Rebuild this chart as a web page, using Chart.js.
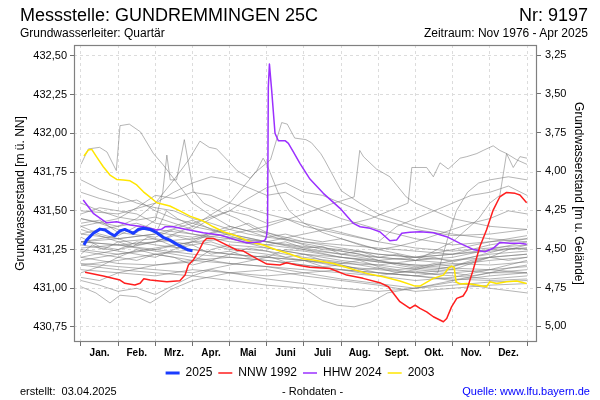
<!DOCTYPE html>
<html>
<head>
<meta charset="utf-8">
<script src="https://cdn.jsdelivr.net/npm/chart.js@4.4.0/dist/chart.umd.min.js"></script>
<style>
    body { margin: 0; background: #fff; font-family: "Liberation Sans", Arial, sans-serif; }
    #wrap { position: relative; width: 600px; height: 400px; background: #fff; overflow: hidden; }
    #wrap canvas { position: absolute; left: 0; top: 0; }
    .txt { position: absolute; white-space: pre; color: #000; line-height: 1; }
</style>
</head>
<body>
<div id="wrap">
    <canvas id="levelChart" width="600" height="400"></canvas>
    <div class="txt" style="left:20px; top:6px; font-size:18px;">Messstelle: GUNDREMMINGEN 25C</div>
    <div class="txt" style="right:12px; top:6px; font-size:18px;">Nr: 9197</div>
    <div class="txt" style="left:20px; top:27px; font-size:12px;">Grundwasserleiter: Quartär</div>
    <div class="txt" style="right:12px; top:27px; font-size:12px;">Zeitraum: Nov 1976 - Apr 2025</div>
    <div class="txt" style="left:20px; top:386px; font-size:11px;">erstellt:  03.04.2025</div>
    <div class="txt" style="left:282px; top:386px; font-size:11px;">- Rohdaten -</div>
    <div class="txt" style="right:10px; top:386px; font-size:11px; color:#0000ff;">Quelle: www.lfu.bayern.de</div>
</div>
<script>
// x values are in months: 0 = 1. Jan., 12 = 31. Dez.
const monthLabels = ["Jan.", "Feb.", "Mrz.", "Apr.", "Mai", "Juni", "Juli", "Aug.", "Sept.", "Okt.", "Nov.", "Dez."];
const monthBounds = [0, 1, 2, 3, 4, 5, 6, 7, 8, 9, 10, 11, 12];
const monthMids = [0.5, 1.5, 2.5, 3.5, 4.5, 5.5, 6.5, 7.5, 8.5, 9.5, 10.5, 11.5];
const levelTicks = [430.75, 431.0, 431.25, 431.5, 431.75, 432.0, 432.25, 432.5];
const depthTicks = [3.25, 3.5, 3.75, 4.0, 4.25, 4.5, 4.75, 5.0];
const groundLevel = 435.755;
const levelMin = 430.653;
const levelMax = 432.571;
const xMin = -0.188;
const xMax = 12.269;

const legendNames = ["2025", "NNW 1992", "HHW 2024", "2003"];

const series2025 = [
    [0.08, 431.279], [0.15, 431.311], [0.33, 431.355], [0.51, 431.382], [0.65, 431.376], [0.78, 431.355],
    [0.9, 431.339], [1.05, 431.371], [1.18, 431.38], [1.32, 431.365], [1.41, 431.355], [1.54, 431.38],
    [1.68, 431.387], [1.86, 431.38], [2.04, 431.359], [2.21, 431.329], [2.39, 431.311], [2.57, 431.285],
    [2.75, 431.262], [2.89, 431.247], [3.0, 431.242],
];

const seriesNNW1992 = [
    [0.11, 431.103], [0.6, 431.079], [1.05, 431.053], [1.18, 431.032], [1.45, 431.021], [1.59, 431.032],
    [1.69, 431.062], [1.86, 431.053], [2.31, 431.042], [2.66, 431.048], [2.8, 431.085], [2.89, 431.15],
    [3.02, 431.182], [3.16, 431.236], [3.29, 431.3], [3.38, 431.322], [3.56, 431.322], [3.83, 431.29],
    [4.19, 431.247], [4.37, 431.24], [4.64, 431.203], [5.0, 431.156], [5.35, 431.15], [5.53, 431.165],
    [5.8, 431.15], [6.16, 431.135], [6.7, 431.128], [7.15, 431.085], [7.59, 431.064], [8.04, 431.036],
    [8.27, 431.01], [8.58, 430.913], [8.85, 430.87], [8.99, 430.891], [9.12, 430.87], [9.3, 430.848],
    [9.48, 430.816], [9.75, 430.784], [9.84, 430.805], [9.97, 430.88], [10.11, 430.935], [10.28, 430.95],
    [10.38, 430.988], [10.55, 431.118], [10.73, 431.268], [10.91, 431.376], [11.09, 431.505], [11.27, 431.591],
    [11.45, 431.619], [11.68, 431.613], [11.81, 431.602], [11.99, 431.552],
];

const seriesHHW2024 = [
    [0.06, 431.57], [0.33, 431.484], [0.69, 431.423], [0.96, 431.43], [1.32, 431.408], [1.68, 431.397],
    [2.04, 431.376], [2.17, 431.382], [2.26, 431.397], [2.48, 431.397], [2.84, 431.38], [3.29, 431.359],
    [3.74, 431.344], [4.19, 431.311], [4.46, 431.294], [4.82, 431.298], [4.95, 431.311], [4.99, 431.333],
    [5.02, 431.4], [5.04, 432.3], [5.07, 432.448], [5.13, 432.28], [5.22, 432.001], [5.31, 431.953],
    [5.49, 431.953], [5.58, 431.936], [5.71, 431.882], [5.89, 431.807], [6.16, 431.705], [6.52, 431.613],
    [6.97, 431.516], [7.33, 431.419], [7.51, 431.397], [7.78, 431.387], [8.04, 431.365], [8.31, 431.307],
    [8.49, 431.311], [8.63, 431.355], [8.85, 431.361], [9.12, 431.365], [9.48, 431.359], [9.84, 431.333],
    [10.2, 431.29], [10.55, 431.251], [10.87, 431.236], [11.09, 431.258], [11.27, 431.296], [11.54, 431.29],
    [11.81, 431.29], [11.99, 431.285],
];

const series2003 = [
    [0.08, 431.854], [0.2, 431.893], [0.29, 431.897], [0.42, 431.849], [0.6, 431.785], [0.78, 431.731],
    [0.96, 431.703], [1.14, 431.699], [1.32, 431.694], [1.5, 431.667], [1.68, 431.623], [1.9, 431.58],
    [2.04, 431.552], [2.39, 431.531], [2.66, 431.5], [2.93, 431.466], [3.29, 431.434], [3.56, 431.397],
    [3.83, 431.365], [4.19, 431.337], [4.55, 431.3], [4.9, 431.279], [5.27, 431.247], [5.62, 431.221],
    [5.98, 431.19], [6.25, 431.182], [6.79, 431.16], [7.24, 431.128], [7.69, 431.096], [8.13, 431.075],
    [8.58, 431.047], [8.99, 431.014], [9.12, 431.014], [9.48, 431.064], [9.75, 431.085], [9.88, 431.128],
    [9.97, 431.143], [10.04, 431.135], [10.09, 431.042], [10.2, 431.027], [10.38, 431.031], [10.65, 431.021],
    [10.91, 431.01], [11.0, 431.042], [11.18, 431.031], [11.45, 431.042], [11.72, 431.047], [11.99, 431.031],
];

// all other years of the record, drawn in grey
const otherYears = [
    [[0, 431.8], [0.2, 431.9], [0.5, 431.91], [0.7, 431.88], [0.95, 431.76], [1.05, 432.05], [1.3, 432.06], [1.6, 432.01], [1.95, 431.87], [2.2, 431.8], [2.65, 431.66], [3.0, 431.55], [3.5, 431.47], [4.0, 431.4], [4.5, 431.37], [5.0, 431.36], [5.5, 431.32], [6.0, 431.28], [6.5, 431.25], [7.0, 431.24], [7.5, 431.22], [8.0, 431.18], [8.5, 431.15], [9.0, 431.13], [9.5, 431.12], [10.0, 431.14], [10.5, 431.17], [11.0, 431.2], [11.5, 431.21], [12.0, 431.22]],
    [[0, 431.45], [0.5, 431.42], [1.0, 431.38], [1.5, 431.36], [2.0, 431.44], [2.2, 431.62], [2.31, 431.86], [2.4, 431.7], [2.57, 431.7], [2.78, 431.96], [2.89, 431.81], [3.02, 431.63], [3.3, 431.55], [3.7, 431.5], [4.2, 431.45], [4.7, 431.38], [5.2, 431.33], [5.7, 431.3], [6.2, 431.28], [7, 431.24], [8, 431.2], [9, 431.18], [10, 431.2], [11, 431.25], [12, 431.3]],
    [[0, 431.35], [0.5, 431.38], [1.0, 431.4], [1.5, 431.45], [2.0, 431.55], [2.5, 431.7], [2.9, 431.83], [3.2, 431.95], [3.45, 431.91], [3.65, 431.9], [3.85, 431.85], [4.2, 431.76], [4.55, 431.71], [4.73, 431.76], [4.9, 431.84], [5.0, 431.8], [5.3, 431.62], [5.6, 431.5], [6.0, 431.42], [6.5, 431.36], [7, 431.32], [8, 431.25], [9, 431.2], [10, 431.18], [11, 431.2], [12, 431.22]],
    [[0, 431.2], [1, 431.25], [2, 431.3], [3, 431.4], [4, 431.55], [4.7, 431.75], [5.1, 431.83], [5.4, 432.07], [5.55, 432.06], [5.75, 431.97], [6.05, 431.96], [6.2, 431.94], [6.45, 431.87], [6.55, 431.83], [7.0, 431.63], [7.5, 431.55], [8, 431.48], [9, 431.4], [10, 431.35], [11, 431.32], [12, 431.3]],
    [[0, 431.3], [1, 431.28], [2, 431.3], [3, 431.32], [4, 431.35], [5, 431.4], [6, 431.48], [6.8, 431.55], [7.35, 431.59], [7.5, 431.89], [7.6, 431.85], [7.95, 431.77], [8.31, 431.72], [8.75, 431.59], [9.0, 431.55], [9.5, 431.5], [10, 431.45], [11, 431.4], [12, 431.38]],
    [[0, 431.25], [1, 431.22], [2, 431.25], [3, 431.3], [4, 431.32], [5, 431.3], [6, 431.35], [7, 431.4], [7.8, 431.45], [8.8, 431.55], [8.9, 431.78], [9.3, 431.78], [9.48, 431.72], [9.66, 431.81], [9.88, 431.77], [10.2, 431.84], [10.38, 431.85], [10.65, 431.87], [10.82, 431.89], [11.09, 431.92], [11.27, 431.89], [11.45, 431.87], [11.63, 431.78], [11.81, 431.85], [12, 431.84]],
    [[0, 431.15], [1, 431.18], [2, 431.22], [3, 431.25], [4, 431.22], [5, 431.2], [6, 431.18], [7, 431.16], [8, 431.15], [9, 431.18], [10, 431.3], [10.7, 431.45], [11.0, 431.55], [11.27, 431.6], [11.45, 431.87], [11.72, 431.83], [12, 431.8]],
    [[0, 431.7], [0.5, 431.64], [1, 431.6], [1.5, 431.55], [2, 431.52], [2.5, 431.5], [3, 431.45], [3.5, 431.42], [4, 431.38], [4.5, 431.35], [5, 431.33], [6, 431.3], [7, 431.26], [8, 431.22], [9, 431.2], [10, 431.22], [11, 431.28], [12, 431.32]],
    [[0, 431.62], [0.5, 431.58], [1, 431.55], [1.5, 431.57], [2, 431.5], [2.5, 431.45], [3, 431.42], [4, 431.35], [5, 431.3], [6, 431.25], [7, 431.2], [8, 431.17], [9, 431.15], [10, 431.15], [11, 431.18], [12, 431.2]],
    [[0, 431.55], [0.5, 431.5], [1, 431.46], [1.5, 431.44], [2, 431.46], [2.5, 431.42], [3, 431.38], [3.5, 431.45], [4, 431.5], [4.5, 431.47], [5, 431.42], [5.5, 431.45], [6, 431.4], [7, 431.35], [8, 431.3], [8.5, 431.4], [9, 431.45], [9.5, 431.5], [10, 431.55], [10.5, 431.6], [11, 431.62], [11.5, 431.66], [12, 431.6]],
    [[0, 431.3], [1, 431.28], [2, 431.25], [3, 431.22], [4, 431.2], [5, 431.18], [6, 431.15], [7, 431.12], [8, 431.1], [9, 431.08], [9.6, 431.1], [9.9, 431.35], [10.1, 431.5], [10.4, 431.62], [10.7, 431.68], [11, 431.7], [11.5, 431.72], [12, 431.7]],
    [[0, 431.45], [1, 431.4], [1.5, 431.42], [2, 431.38], [3, 431.35], [4, 431.3], [5, 431.28], [6, 431.25], [7, 431.22], [8, 431.2], [9, 431.18], [10, 431.16], [11, 431.15], [12, 431.17]],
    [[0, 431.42], [0.5, 431.44], [1, 431.36], [2, 431.33], [2.5, 431.38], [3, 431.35], [4, 431.32], [5, 431.26], [6, 431.22], [7, 431.18], [8, 431.15], [9, 431.12], [10, 431.1], [11, 431.12], [12, 431.14]],
    [[0, 431.38], [1, 431.3], [2, 431.32], [3, 431.28], [3.5, 431.3], [4, 431.26], [5, 431.24], [6, 431.2], [7, 431.17], [8, 431.13], [9, 431.1], [10, 431.08], [11, 431.06], [12, 431.08]],
    [[0, 431.33], [0.5, 431.27], [1, 431.25], [1.5, 431.3], [2, 431.28], [3, 431.25], [4, 431.22], [5, 431.2], [6, 431.18], [7, 431.14], [8, 431.12], [9, 431.1], [10, 431.12], [11, 431.2], [11.5, 431.25], [12, 431.28]],
    [[0, 431.28], [1, 431.24], [2, 431.2], [2.5, 431.25], [3, 431.3], [3.5, 431.28], [4, 431.25], [5, 431.22], [6, 431.18], [7, 431.15], [8, 431.1], [9, 431.08], [10, 431.05], [11, 431.1], [12, 431.12]],
    [[0, 431.24], [1, 431.2], [1.5, 431.25], [2, 431.22], [3, 431.18], [4, 431.2], [5, 431.18], [6, 431.15], [7, 431.12], [8, 431.08], [9, 431.05], [10, 431.07], [11, 431.12], [12, 431.18]],
    [[0, 431.2], [0.5, 431.18], [1, 431.16], [2, 431.15], [3, 431.17], [3.5, 431.25], [4, 431.28], [5, 431.26], [6, 431.22], [7, 431.2], [8, 431.18], [9, 431.2], [10, 431.22], [11, 431.25], [12, 431.26]],
    [[0, 431.16], [1, 431.14], [2, 431.12], [3, 431.1], [4, 431.15], [5, 431.2], [5.5, 431.25], [6, 431.24], [7, 431.2], [8, 431.17], [9, 431.15], [10, 431.13], [11, 431.12], [12, 431.1]],
    [[0, 431.12], [1, 431.1], [2, 431.08], [3, 431.12], [4, 431.1], [5, 431.08], [6, 431.1], [7, 431.12], [8, 431.1], [9, 431.08], [10, 431.06], [11, 431.05], [12, 431.06]],
    [[0, 431.07], [0.5, 431.05], [1, 431.1], [2, 431.15], [3, 431.18], [4, 431.16], [5, 431.14], [6, 431.1], [7, 431.06], [8, 431.03], [9, 431.0], [10, 431.02], [11, 431.04], [12, 431.05]],
    [[0, 431.01], [0.4, 430.97], [0.78, 430.905], [1.05, 430.955], [1.5, 430.945], [1.86, 430.905], [2.13, 430.945], [2.4, 430.99], [3, 431.05], [4, 431.1], [5, 431.12], [6, 431.08], [7, 431.05], [8, 431.02], [9, 430.98], [10, 431.0], [11, 431.02], [12, 431.03]],
    [[0, 431.15], [1, 431.12], [2, 431.1], [3, 431.08], [4, 431.05], [5, 431.02], [6, 431.0], [6.5, 430.92], [6.9, 430.89], [7.35, 430.88], [7.8, 430.91], [8.25, 430.97], [8.7, 430.99], [9.5, 431.02], [10, 431.04], [11, 431.0], [12, 430.97]],
    [[0, 431.35], [1, 431.32], [2, 431.35], [2.3, 431.5], [2.6, 431.45], [3, 431.4], [4, 431.35], [5, 431.3], [6, 431.27], [7, 431.25], [8, 431.22], [9, 431.2], [10, 431.25], [11, 431.3], [12, 431.34]],
    [[0, 431.3], [1, 431.34], [1.5, 431.4], [2, 431.36], [3, 431.33], [4, 431.38], [4.5, 431.42], [5, 431.36], [6, 431.3], [7, 431.28], [8, 431.26], [9, 431.24], [10, 431.22], [11, 431.24], [12, 431.26]],
    [[0, 431.18], [1, 431.22], [2, 431.26], [3, 431.3], [3.5, 431.35], [4, 431.33], [5, 431.3], [6, 431.26], [7, 431.22], [8, 431.18], [9, 431.14], [10, 431.12], [11, 431.1], [12, 431.1]],
    [[0, 431.26], [1, 431.28], [2, 431.24], [3, 431.2], [4, 431.16], [5, 431.14], [6, 431.12], [7, 431.1], [8, 431.08], [9, 431.12], [10, 431.18], [11, 431.22], [12, 431.24]],
    [[0, 431.5], [1, 431.48], [2, 431.55], [2.5, 431.62], [3, 431.68], [3.5, 431.72], [4, 431.7], [4.5, 431.65], [5, 431.6], [5.5, 431.62], [6, 431.55], [7, 431.45], [8, 431.38], [9, 431.32], [10, 431.28], [11, 431.3], [12, 431.32]],
    [[0, 431.4], [1, 431.45], [1.5, 431.52], [2, 431.6], [2.5, 431.58], [3, 431.62], [3.5, 431.6], [4, 431.55], [5, 431.48], [6, 431.42], [7, 431.36], [8, 431.3], [9, 431.26], [10, 431.24], [11, 431.26], [12, 431.28]],
    [[0, 431.3], [1, 431.32], [2, 431.35], [3, 431.42], [4, 431.5], [4.5, 431.58], [5, 431.65], [5.5, 431.68], [6, 431.62], [6.5, 431.6], [7, 431.55], [7.5, 431.5], [8, 431.45], [9, 431.38], [10, 431.34], [11, 431.35], [12, 431.38]],
    [[0, 431.22], [0.3, 431.28], [0.6, 431.25], [1, 431.3], [1.4, 431.27], [1.8, 431.33], [2.2, 431.3], [2.6, 431.26], [3, 431.28], [3.5, 431.22], [4, 431.24], [4.5, 431.2], [5, 431.21], [5.5, 431.17], [6, 431.18], [6.5, 431.14], [7, 431.15], [7.5, 431.12], [8, 431.13], [8.5, 431.1], [9, 431.11], [9.5, 431.09], [10, 431.1], [10.5, 431.08], [11, 431.1], [11.5, 431.13], [12, 431.15]],
    [[0, 431.1], [0.5, 431.14], [1, 431.2], [1.5, 431.18], [2, 431.22], [2.5, 431.2], [3, 431.15], [3.5, 431.18], [4, 431.22], [4.5, 431.26], [5, 431.24], [5.5, 431.2], [6, 431.22], [6.5, 431.18], [7, 431.16], [7.5, 431.18], [8, 431.14], [8.5, 431.12], [9, 431.13], [9.5, 431.16], [10, 431.14], [10.5, 431.18], [11, 431.2], [11.5, 431.18], [12, 431.2]],
    [[0, 431.05], [0.5, 431.02], [1, 430.98], [1.5, 431.0], [2, 430.96], [2.5, 431.02], [3, 431.08], [3.5, 431.12], [4, 431.1], [5, 431.06], [6, 431.03], [7, 431.0], [8, 430.98], [9, 431.0], [10, 431.05], [11, 431.08], [12, 431.1]],
    [[0, 431.4], [0.5, 431.35], [1, 431.32], [1.5, 431.28], [2, 431.3], [2.5, 431.34], [3, 431.31], [3.5, 431.36], [4, 431.4], [4.5, 431.37], [5, 431.33], [5.5, 431.35], [6, 431.32], [6.5, 431.3], [7, 431.32], [7.5, 431.28], [8, 431.25], [8.5, 431.27], [9, 431.3], [9.5, 431.34], [10, 431.38], [10.5, 431.42], [11, 431.45], [11.5, 431.5], [12, 431.48]],
    [[0, 431.48], [0.5, 431.52], [1, 431.5], [1.5, 431.48], [2, 431.42], [2.5, 431.4], [3, 431.44], [3.5, 431.38], [4, 431.34], [4.5, 431.3], [5, 431.28], [5.5, 431.3], [6, 431.26], [6.5, 431.27], [7, 431.22], [7.5, 431.24], [8, 431.2], [8.5, 431.22], [9, 431.18], [9.5, 431.2], [10, 431.17], [10.5, 431.2], [11, 431.23], [11.5, 431.26], [12, 431.25]],
];

const toPoints = (pairs) => pairs.map(([x, y]) => ({ x, y }));
const comma = (v) => v.toFixed(2).replace(".", ",");

const highlighted = [
    { label: legendNames[0], data: toPoints(series2025), borderColor: "#1a3cff", borderWidth: 3 },
    { label: legendNames[1], data: toPoints(seriesNNW1992), borderColor: "#ff1e1e", borderWidth: 1.5 },
    { label: legendNames[2], data: toPoints(seriesHHW2024), borderColor: "#9b30ff", borderWidth: 1.5 },
    { label: legendNames[3], data: toPoints(series2003), borderColor: "#ffe600", borderWidth: 1.5 },
];

const greyLines = otherYears.map((pairs) => ({
    label: "",
    data: toPoints(pairs),
    borderColor: "rgba(120, 120, 120, 0.55)",
    borderWidth: 1,
}));

// frame round the plot area
const plotFrame = {
    id: "plotFrame",
    afterDraw: (chart) => {
        const { ctx, chartArea: a } = chart;
        ctx.save();
        ctx.strokeStyle = "#808080";
        ctx.lineWidth = 1.2;
        ctx.strokeRect(a.left + 0.5, a.top + 0.5, a.right - a.left - 1, a.bottom - a.top - 1);
        ctx.restore();
    },
};

Chart.defaults.font.family = "'Liberation Sans', Arial, sans-serif";
Chart.defaults.color = "#000";

const gridStyle = {
    color: "#dcdcdc",
    lineWidth: 1,
    tickLength: 4,
    tickColor: "#707070",
    tickWidth: 1,
};

const ctx = document.getElementById("levelChart").getContext("2d");
new Chart(ctx, {
    type: "line",
    data: { datasets: highlighted.concat(greyLines) },
    options: {
        responsive: false,
        animation: false,
        events: [],
        layout: { padding: { top: 45, left: 0, right: 0, bottom: 11 } },
        elements: {
            point: { radius: 0 },
            line: { tension: 0, fill: false, borderJoinStyle: "round" },
        },
        plugins: {
            tooltip: { enabled: false },
            legend: {
                position: "bottom",
                labels: {
                    filter: (item) => item.datasetIndex < legendNames.length,
                    usePointStyle: true,
                    pointStyle: "line",
                    pointStyleWidth: 14,
                    boxHeight: 12,
                    padding: 6,
                    font: { size: 12 },
                    color: "#000",
                },
            },
        },
        scales: {
            x: {
                type: "linear",
                position: "bottom",
                weight: 0,
                min: xMin,
                max: xMax,
                afterBuildTicks: (scale) => {
                    scale.ticks = monthBounds.map((v) => ({ value: v }));
                },
                afterFit: (scale) => {
                    scale.height = 5;
                },
                ticks: { display: false },
                grid: gridStyle,
                border: { display: false, dash: [3, 3] },
            },
            xm: {
                type: "linear",
                position: "bottom",
                weight: 1,
                min: xMin,
                max: xMax,
                afterBuildTicks: (scale) => {
                    scale.ticks = monthMids.map((v) => ({ value: v }));
                },
                afterFit: (scale) => {
                    scale.height = 14;
                },
                ticks: {
                    autoSkip: false,
                    maxRotation: 0,
                    padding: 0,
                    font: { size: 10, weight: "bold" },
                    callback: (value, index) => monthLabels[index],
                },
                grid: { display: false, drawTicks: false },
                border: { display: false },
            },
            y: {
                type: "linear",
                position: "left",
                min: levelMin,
                max: levelMax,
                afterBuildTicks: (scale) => {
                    scale.ticks = levelTicks.map((v) => ({ value: v }));
                },
                afterFit: (scale) => {
                    scale.width = 74;
                },
                ticks: {
                    padding: 3,
                    font: { size: 11 },
                    callback: (value) => comma(value),
                },
                grid: gridStyle,
                border: { display: false, dash: [3, 3] },
                title: {
                    display: true,
                    text: "Grundwasserstand [m ü. NN]",
                    font: { size: 12 },
                    padding: { top: 13.5, bottom: 0 },
                },
            },
            y2: {
                type: "linear",
                position: "right",
                reverse: true,
                min: groundLevel - levelMax,
                max: groundLevel - levelMin,
                afterBuildTicks: (scale) => {
                    scale.ticks = depthTicks.map((v) => ({ value: v }));
                },
                afterFit: (scale) => {
                    scale.width = 63;
                },
                ticks: {
                    padding: 4,
                    font: { size: 11 },
                    callback: (value) => comma(value),
                },
                grid: { ...gridStyle, drawOnChartArea: false },
                border: { display: false },
                title: {
                    display: true,
                    text: "Grundwasserstand [m u. Gelände]",
                    font: { size: 12 },
                    padding: { top: 14, bottom: 0 },
                },
            },
        },
    },
    plugins: [plotFrame],
});
</script>
</body>
</html>
